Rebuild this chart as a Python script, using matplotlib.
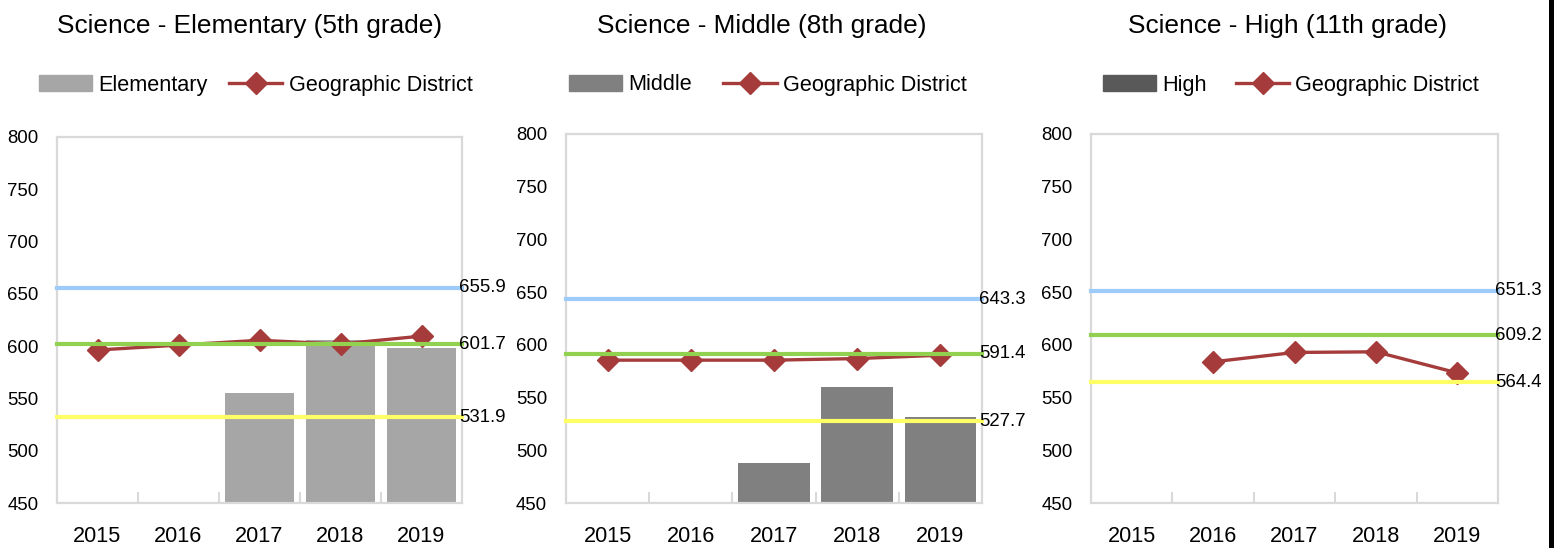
import numpy as np
import matplotlib
matplotlib.use('Agg')
import matplotlib.pyplot as plt
from matplotlib import font_manager
from matplotlib.patches import Rectangle, Patch
from matplotlib.lines import Line2D

# pick a narrow sans if there is one, else regular sans a bit smaller
names = {f.name for f in font_manager.fontManager.ttflist}
if 'Liberation Sans Narrow' in names:
    FONT = 'Liberation Sans Narrow'
    SC = 1.0
else:
    FONT = 'Liberation Sans'
    SC = 0.84
plt.rcParams['font.family'] = [FONT, 'DejaVu Sans']

years = ['2015', '2016', '2017', '2018', '2019']

titles = ['Science - Elementary (5th grade)',
          'Science - Middle (8th grade)',
          'Science - High (11th grade)']
bar_names = ['Elementary', 'Middle', 'High']
bar_colors = ['#A6A6A6', '#808080', '#595959']

elem_bars = [np.nan, np.nan, 555.5, 605.5, 598.7]
mid_bars = [np.nan, np.nan, 488.0, 559.6, 531.7]
high_bars = [np.nan, np.nan, np.nan, np.nan, np.nan]

elem_district = [596.3, 601.0, 605.6, 602.0, 609.6]
mid_district = [585.5, 585.5, 585.5, 587.0, 590.2]
high_district = [np.nan, 583.9, 592.8, 593.4, 573.4]

# reference lines: blue, green, yellow
elem_refs = [655.9, 601.7, 531.9]
mid_refs = [643.3, 591.4, 527.7]
high_refs = [651.3, 609.2, 564.4]
ref_colors = ['#9DCBFA', '#92D050', '#FFFF66']

W, H = 1557, 548
fig = plt.figure(figsize=(W / 100, H / 100), dpi=100)

# axes boxes in pixels: left, right, top, bottom
boxes = [(57, 462, 137, 503), (566, 982, 134, 503), (1091, 1498, 134, 503)]
title_x = [250, 762, 1287]
legend_x = [39, 569, 1103]
col_gap = [1.0, 1.45, 1.35]

all_bars = [elem_bars, mid_bars, high_bars]
all_district = [elem_district, mid_district, high_district]
all_refs = [elem_refs, mid_refs, high_refs]

x = np.arange(len(years))
dist_color = '#A53B3B'

for i in range(3):
    l, r, t, b = boxes[i]
    ax = fig.add_axes([l / W, 1 - b / H, (r - l) / W, (b - t) / H])

    ax.bar(x, all_bars[i], width=0.86, color=bar_colors[i], zorder=1)
    ax.plot(x, all_district[i], color=dist_color, lw=2.4, marker='D',
            ms=11, zorder=2)
    for v, c in zip(all_refs[i], ref_colors):
        ax.axhline(v, color=c, lw=3, zorder=3, clip_on=False)
        ax.annotate('%.1f' % v, xy=(1, v), xycoords=('axes fraction', 'data'),
                    xytext=(-2, 0), textcoords='offset points',
                    ha='left', va='center', fontsize=16 * SC, zorder=4)

    ax.set_xlim(-0.5, 4.5)
    ax.set_ylim(450, 800)
    ax.set_yticks(range(450, 801, 50))
    ax.set_xticks(x)
    ax.set_xticklabels(years)
    ax.set_xticks([0.5, 1.5, 2.5, 3.5], minor=True)
    ax.tick_params(axis='x', which='major', length=0, pad=16.5,
                   labelsize=18.5 * SC)
    ax.tick_params(axis='x', which='minor', direction='in', length=8,
                   width=1.5, color='#D9D9D9')
    ax.tick_params(axis='y', length=0, pad=13.5, labelsize=16 * SC)
    for s in ax.spines.values():
        s.set_color('#D9D9D9')
        s.set_linewidth(1.6)

    fig.text(title_x[i] / W, 1 - 26 / H, titles[i], ha='center', va='center',
             fontsize=22.5 * SC)

    handles = [Patch(color=bar_colors[i], label=bar_names[i]),
               Line2D([], [], color=dist_color, lw=2.4, marker='D', ms=11,
                      label='Geographic District')]
    ax.legend(handles=handles, ncol=2, frameon=False, loc='center left',
              bbox_to_anchor=(legend_x[i] / W, 1 - 85 / H),
              bbox_transform=fig.transFigure, fontsize=18.6 * SC,
              borderpad=0, borderaxespad=0, handlelength=2.45,
              handleheight=0.7, handletextpad=0.28, columnspacing=col_gap[i])

# dark edge at the right side of the picture
fig.add_artist(Rectangle((1549 / W, 0), 5 / W, 1, transform=fig.transFigure,
                         color='black', lw=0))

fig.savefig('out.png', dpi=100)
